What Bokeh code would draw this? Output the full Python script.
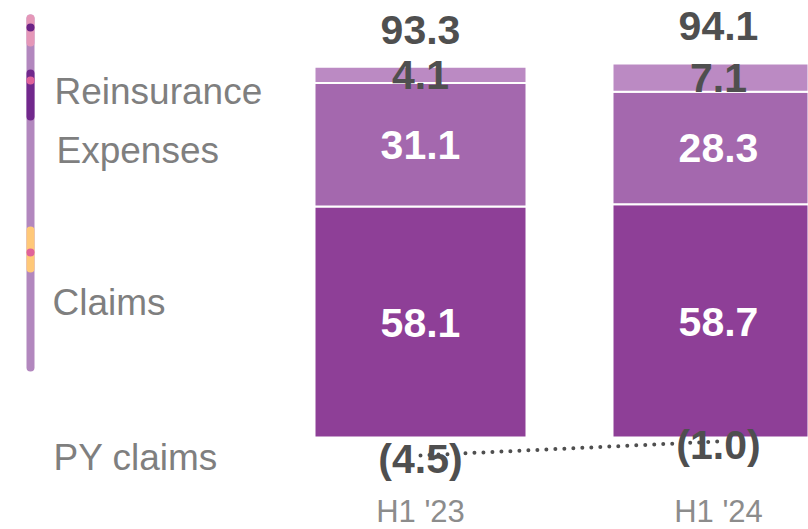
from bokeh.plotting import figure
from bokeh.models import Range1d
from bokeh.core.properties import value
from bokeh.embed import file_html
from bokeh.resources import INLINE

# ---- data ----
categories = ["H1 '23", "H1 '24"]
claims = [58.1, 58.7]
expenses = [31.1, 28.3]
reinsurance = [4.1, 7.1]
totals = [93.3, 94.1]
py_claims = [-4.5, -1.0]
series_names = ["Reinsurance", "Expenses", "Claims", "PY claims"]

# ---- layout helpers (reference pixel -> data) ----
W, H = 808, 529
PX_PER_X = 298.0
PX_PER_Y = 3.975
X0_PX, Y0_PX = 420.0, 437.0


def X(px):
    return (px - X0_PX) / PX_PER_X


def Y(py):
    return (Y0_PX - py) / PX_PER_Y


FONT = value("Liberation Sans")
C_CLAIMS = "#8e3f97"
C_EXP = "#a468ae"
C_REIN = "#bb8ac3"
C_DARK = "#4f4f4f"
C_GRAY = "#7f7f7f"

p = figure(width=W, height=H, x_range=Range1d(X(0), X(W)), y_range=Range1d(Y(H), Y(0)),
           output_backend="svg", toolbar_location=None, min_border=0,
           x_axis_location=None, y_axis_location=None, outline_line_color=None)
p.grid.visible = False
p.background_fill_color = "white"
p.border_fill_color = "white"

xs = list(range(len(categories)))
bw = 212 / PX_PER_X
cum1 = [c + e for c, e in zip(claims, expenses)]
top3 = [a + r for a, r in zip(cum1, reinsurance)]

p.vbar(x=xs, bottom=0, top=claims, width=bw, fill_color=C_CLAIMS, line_color="white", line_width=2)
p.vbar(x=xs, bottom=claims, top=cum1, width=bw, fill_color=C_EXP, line_color="white", line_width=2)
p.vbar(x=xs, bottom=cum1, top=top3, width=bw, fill_color=C_REIN, line_color="white", line_width=2)

common = dict(text_font=FONT, text_font_style="bold", text_font_size="41px",
              text_align="center", text_baseline="middle")
p.text(x=xs, y=[c / 2 for c in claims], text=[f"{v:.1f}" for v in claims], text_color="white",
       y_offset=1, **common)
p.text(x=xs, y=[c + e / 2 for c, e in zip(claims, expenses)], text=[f"{v:.1f}" for v in expenses],
       text_color="white", **common)
p.text(x=xs, y=[a + r / 2 for a, r in zip(cum1, reinsurance)], text=[f"{v:.1f}" for v in reinsurance],
       text_color=C_DARK, **common)
p.text(x=xs, y=totals, text=[f"{v:.1f}" for v in totals], text_color=C_DARK, y_offset=-37, **common)
p.text(x=xs, y=py_claims, text=[f"({abs(v):.1f})" for v in py_claims], text_color=C_DARK, y_offset=4, **common)

p.line(x=xs, y=py_claims, line_color=C_DARK, line_width=4, line_dash="0 9", line_cap="round")

# category labels
p.text(x=xs, y=[Y(511)] * len(xs), text=categories, text_font=FONT, text_font_size="31px",
       text_color="#8c8c8c", text_align="center", text_baseline="middle")

# series labels on the left
p.text(x=[X(54), X(56), X(52), X(53)], y=[Y(91), Y(150), Y(302), Y(457)], text=series_names,
       text_font=FONT, text_font_size="37px", text_color=C_GRAY,
       text_align="left", text_baseline="middle")

# decorative vertical bar
bx = X(30)
p.line(x=[bx, bx], y=[Y(18), Y(367)], line_color="#b287be", line_width=8, line_cap="round")
p.line(x=[bx, bx], y=[Y(18), Y(42)], line_color="#e597b8", line_width=8, line_cap="round")
p.line(x=[bx, bx], y=[Y(73), Y(116)], line_color="#71288c", line_width=8, line_cap="round")
p.line(x=[bx, bx], y=[Y(230), Y(268)], line_color="#ffc878", line_width=8, line_cap="round")
p.scatter(x=[bx], y=[Y(27)], size=8, fill_color="#6c2386", line_color=None)
p.scatter(x=[bx, bx], y=[Y(80), Y(252)], size=8, fill_color="#e0629a", line_color=None)

open("out.html", "w").write(file_html(p, INLINE))
